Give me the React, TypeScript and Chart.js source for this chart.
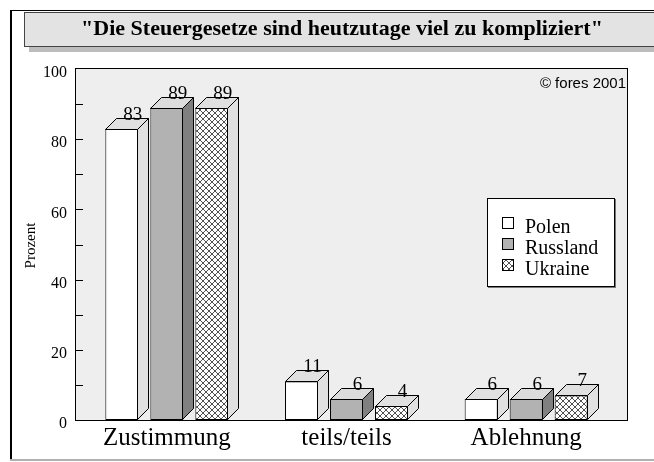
import React, { useEffect, useRef } from "react";
import { Chart, registerables } from "chart.js";

Chart.register(...registerables);

// ---- data ----
const categories = ["Zustimmung", "teils/teils", "Ablehnung"];
const seriesNames = ["Polen", "Russland", "Ukraine"];
const polen = [83, 11, 6];
const russland = [89, 6, 6];
const ukraine = [89, 4, 7];
const yMin = 0;
const yMax = 100;
const yLabelStep = 20;
const yMinorStep = 10;
const titleText = '"Die Steuergesetze sind heutzutage viel zu kompliziert"';
const yAxisTitle = "Prozent";
const copyrightText = "© fores 2001";

const SERIF = '"Liberation Serif", "Times New Roman", Times, serif';
const SANS = '"Liberation Sans", Arial, sans-serif';

function makePattern(ctx: CanvasRenderingContext2D): CanvasPattern | string {
  const p = 6;
  const c = document.createElement("canvas");
  c.width = p;
  c.height = p;
  const g = c.getContext("2d");
  if (!g) return "#888";
  const img = g.createImageData(p, p);
  for (let y = 0; y < p; y++) {
    for (let x = 0; x < p; x++) {
      const a = (x - y + p) % p === 0;
      const b = (x + y) % p === 3;
      const i = (y * p + x) * 4;
      const v = a || b ? 80 : 255;
      img.data[i] = v;
      img.data[i + 1] = v;
      img.data[i + 2] = v;
      img.data[i + 3] = 255;
    }
  }
  g.putImageData(img, 0, 0);
  return ctx.createPattern(c, "repeat") || "#888";
}

export default function App() {
  const ref = useRef<HTMLCanvasElement>(null);

  useEffect(() => {
    const canvas = ref.current;
    if (!canvas) return;
    const ctx0 = canvas.getContext("2d");
    if (!ctx0) return;
    const pattern = makePattern(ctx0);
    const DX = 11;
    const DY = 11;
    const frontColors: (string | CanvasPattern)[] = ["#ffffff", "#b2b2b2", pattern];
    const sideColors = ["#e0e0e0", "#808080", "#e0e0e0"];
    const topColors = ["#e0e0e0", "#dcdcdc", "#e0e0e0"];

    const plotRect = (ca: any) => ({
      l: ca.left - 2,
      r: ca.right + 12,
      t: ca.top - 1,
      b: ca.bottom,
    });

    const deco = {
      id: "deco",
      beforeDraw(chart: any) {
        const ctx: CanvasRenderingContext2D = chart.ctx;
        const ca = chart.chartArea;
        ctx.save();
        ctx.fillStyle = "#ffffff";
        ctx.fillRect(0, 0, chart.width, chart.height);
        // outer frame
        ctx.fillStyle = "#000";
        ctx.fillRect(10, 10, chart.width, 1);
        ctx.fillRect(10, 10, 2, 450);
        ctx.fillStyle = "#b0b0b0";
        ctx.fillRect(10, 459, chart.width, 2);
        // title box
        ctx.fillStyle = "#bdbdbd";
        ctx.fillRect(29, 47, chart.width, 5);
        ctx.fillStyle = "#e3e3e3";
        ctx.fillRect(24, 12, chart.width, 34);
        ctx.strokeStyle = "#444";
        ctx.lineWidth = 1;
        ctx.strokeRect(24.5, 12.5, chart.width, 34);
        // plot background
        const p = plotRect(ca);
        ctx.fillStyle = "#eeeeee";
        ctx.fillRect(p.l, p.t, p.r - p.l, p.b - p.t);
        ctx.strokeStyle = "#000";
        ctx.strokeRect(p.l + 0.5, p.t + 0.5, p.r - p.l - 1, p.b - p.t);
        ctx.restore();
      },
      afterDatasetsDraw(chart: any) {
        const ctx: CanvasRenderingContext2D = chart.ctx;
        const ca = chart.chartArea;
        const p = plotRect(ca);
        const yScale = chart.scales.y;
        ctx.save();
        ctx.lineWidth = 1;
        ctx.strokeStyle = "#000";
        // 3D faces
        chart.data.datasets.forEach((ds: any, di: number) => {
          const meta = chart.getDatasetMeta(di);
          meta.data.forEach((el: any) => {
            const { x, y, base, width } = el.getProps(["x", "y", "base", "width"], true);
            const l = Math.round(x - width / 2);
            const r = Math.round(x + width / 2);
            const t = Math.round(y);
            const b = Math.round(base);
            // side
            ctx.beginPath();
            ctx.moveTo(r - 0.5, t + 0.5);
            ctx.lineTo(r - 0.5 + DX, t + 0.5 - DY);
            ctx.lineTo(r - 0.5 + DX, b - 0.5 - DY);
            ctx.lineTo(r - 0.5, b - 0.5);
            ctx.closePath();
            ctx.fillStyle = sideColors[di];
            ctx.fill();
            ctx.stroke();
            // top
            ctx.beginPath();
            ctx.moveTo(l + 0.5, t + 0.5);
            ctx.lineTo(l + 0.5 + DX, t + 0.5 - DY);
            ctx.lineTo(r - 0.5 + DX, t + 0.5 - DY);
            ctx.lineTo(r - 0.5, t + 0.5);
            ctx.closePath();
            ctx.fillStyle = topColors[di];
            ctx.fill();
            ctx.stroke();
          });
        });
        // value labels
        ctx.fillStyle = "#000";
        ctx.font = `19px ${SERIF}`;
        ctx.textAlign = "center";
        ctx.textBaseline = "alphabetic";
        chart.data.datasets.forEach((ds: any, di: number) => {
          const meta = chart.getDatasetMeta(di);
          meta.data.forEach((el: any, i: number) => {
            const { x, y } = el.getProps(["x", "y"], true);
            ctx.fillText(String(ds.data[i]), x + DX, y - DY + 2);
          });
        });
        // minor tick marks (inside plot)
        ctx.beginPath();
        for (let v = yMin + yMinorStep; v < yMax; v += yMinorStep) {
          const py = Math.round(yScale.getPixelForValue(v)) + 0.5;
          ctx.moveTo(p.l, py);
          ctx.lineTo(p.l + 8, py);
        }
        ctx.stroke();
        // copyright
        ctx.font = `15px ${SANS}`;
        ctx.textAlign = "right";
        ctx.fillText(copyrightText, p.r - 2, p.t + 20);
        // y axis title
        ctx.save();
        ctx.translate(31, (ca.top + ca.bottom) / 2 + 1);
        ctx.rotate(-Math.PI / 2);
        ctx.font = `15px ${SERIF}`;
        ctx.textAlign = "center";
        ctx.textBaseline = "middle";
        ctx.fillText(yAxisTitle, 0, 0);
        ctx.restore();
        // title
        ctx.font = `bold 22px ${SERIF}`;
        ctx.textAlign = "center";
        ctx.textBaseline = "middle";
        ctx.fillText(titleText, 342, 29);
        // legend
        const lx = 487;
        const ly = 198;
        const lw = 128;
        const lh = 89;
        ctx.fillStyle = "#777";
        ctx.fillRect(lx + 1, ly + lh, lw, 1);
        ctx.fillRect(lx + lw, ly + 1, 1, lh);
        ctx.fillStyle = "#fff";
        ctx.fillRect(lx, ly, lw, lh);
        ctx.strokeStyle = "#000";
        ctx.strokeRect(lx + 0.5, ly + 0.5, lw - 1, lh - 1);
        ctx.font = `20px ${SERIF}`;
        ctx.textAlign = "left";
        ctx.textBaseline = "alphabetic";
        seriesNames.forEach((name, i) => {
          const sy = ly + 19 + i * 21;
          ctx.fillStyle = frontColors[i] as any;
          ctx.fillRect(lx + 15, sy, 12, 12);
          ctx.strokeRect(lx + 15.5, sy + 0.5, 11, 11);
          ctx.fillStyle = "#000";
          ctx.fillText(name, lx + 38, ly + 35 + i * 21);
        });
        ctx.restore();
      },
    };

    const chart = new Chart(canvas, {
      type: "bar",
      data: {
        labels: categories,
        datasets: [polen, russland, ukraine].map((d, i) => ({
          label: seriesNames[i],
          data: d,
          backgroundColor: frontColors[i] as any,
          borderColor: "#000",
          borderWidth: 1,
          borderSkipped: false,
          categoryPercentage: 0.7514,
          barPercentage: 0.733,
        })),
      },
      options: {
        responsive: false,
        animation: false,
        devicePixelRatio: 1,
        events: [],
        layout: { padding: { left: 0, right: 38, top: 69, bottom: 0 } },
        plugins: {
          legend: { display: false },
          title: { display: false },
          tooltip: { enabled: false },
        },
        scales: {
          x: {
            grid: { display: false, drawTicks: false },
            border: { display: false },
            ticks: {
              color: "#000",
              font: { family: SERIF, size: 25 },
              padding: 3,
              maxRotation: 0,
              autoSkip: false,
            },
            afterFit: (s: any) => {
              s.height = 42;
            },
          },
          y: {
            min: yMin,
            max: yMax,
            grid: { display: false, drawTicks: false },
            border: { display: false },
            ticks: {
              stepSize: yLabelStep,
              color: "#000",
              font: { family: SERIF, size: 16 },
              padding: 10,
              labelOffset: 4,
            },
            afterFit: (s: any) => {
              s.width = 77;
            },
          },
        },
      },
      plugins: [deco],
    } as any);

    return () => {
      chart.destroy();
    };
  }, []);

  return (
    <div style={{ position: "absolute", left: 0, top: 0, width: 654, height: 462 }}>
      <canvas ref={ref} width={654} height={462} style={{ display: "block" }} />
    </div>
  );
}
